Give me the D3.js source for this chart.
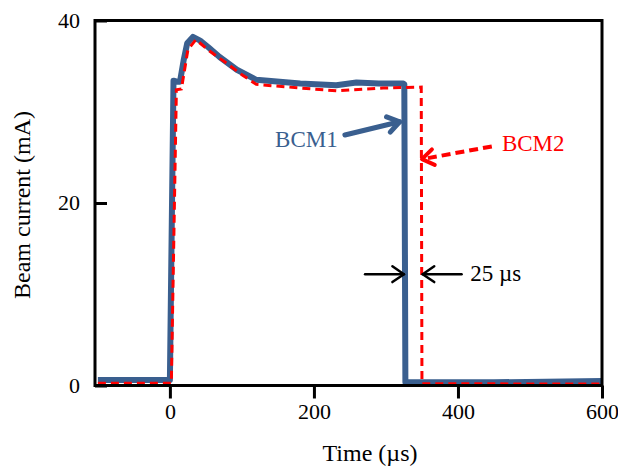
<!DOCTYPE html>
<html>
<head>
<meta charset="utf-8">
<script src="https://cdn.jsdelivr.net/npm/d3@7"></script>
<style>
  body { margin: 0; background: #fff; }
  text { font-family: "Liberation Serif", "Times New Roman", serif; }
</style>
</head>
<body>
<svg id="paper" width="618" height="468"></svg>
<script>
// BCM1 trace (time in us, current in mA)
var bcm1Time = [-100, 0, 5, 10, 14, 19, 24, 32, 42, 53, 69, 93, 120, 181, 231, 259, 290, 324, 325.5, 327, 450, 600];
var bcm1Curr = [0.6, 0.6, 33.4, 33.3, 33.3, 35.6, 37.5, 38.2, 37.8, 37.1, 36.0, 34.6, 33.5, 33.1, 32.9, 33.2, 33.1, 33.1, 33.0, 0.35, 0.35, 0.5];

// BCM2 trace
var bcm2Time = [-100, 2, 9, 16, 25, 36, 56, 79, 101, 120, 181, 231, 296, 349, 350, 600];
var bcm2Curr = [0.25, 0.25, 32.4, 32.5, 36.8, 37.9, 36.6, 35.3, 34.0, 33.0, 32.6, 32.3, 32.6, 32.7, 0.2, 0.15];

var xTicks = [0, 200, 400, 600];
var yTicks = [0, 20, 40];

// annotations in data units
var labels = [
    { text: "BCM1", t: 233, v: 26.1, anchor: "end", color: "#3a5f8f" },
    { text: "BCM2", t: 461, v: 25.7, anchor: "start", color: "#ff0000" },
    { text: "25 \u00b5s", t: 417, v: 11.45, anchor: "start", color: "#000" }
];
var arrows = [
    { t0: 243, v0: 27.45, t1: 319, v1: 28.9, color: "#3a5f8f", width: 5, dash: null },
    { t0: 447, v0: 26.2, t1: 350, v1: 24.8, color: "#ff0000", width: 4, dash: "9,5" },
    { t0: 271, v0: 12.2, t1: 325, v1: 12.2, color: "#000", width: 2.5, dash: null },
    { t0: 405, v0: 12.2, t1: 351, v1: 12.2, color: "#000", width: 2.5, dash: null }
];

var svg = d3.select("#paper");
var plotLeft = 95, plotRight = 602, plotTop = 20.5, plotBottom = 385.5;

var x = d3.scaleLinear().domain([-104, 600]).range([plotLeft, plotRight]);
var y = d3.scaleLinear().domain([0, 40]).range([plotBottom, plotTop]);

var line = d3.line()
    .x(function (d) { return x(d[0]); })
    .y(function (d) { return y(d[1]); });

var blue = d3.zip(bcm1Time, bcm1Curr);
var red = d3.zip(bcm2Time, bcm2Curr);

svg.append("path")
    .datum(blue)
    .attr("d", line)
    .attr("fill", "none")
    .attr("stroke", "#3a5f8f")
    .attr("stroke-width", 6)
    .attr("stroke-linejoin", "round");

svg.append("path")
    .datum(red)
    .attr("d", line)
    .attr("fill", "none")
    .attr("stroke", "#ff0000")
    .attr("stroke-width", 3)
    .attr("stroke-dasharray", "8,5");

// frame
svg.append("rect")
    .attr("x", plotLeft).attr("y", plotTop)
    .attr("width", plotRight - plotLeft).attr("height", plotBottom - plotTop)
    .attr("fill", "none")
    .attr("stroke", "#000")
    .attr("stroke-width", 3);

// x axis
var xAxis = svg.append("g")
    .attr("transform", "translate(0," + plotBottom + ")")
    .call(d3.axisBottom(x).tickValues(xTicks).tickSize(13).tickSizeOuter(0).tickPadding(5));
xAxis.select(".domain").remove();
xAxis.selectAll(".tick line").attr("stroke", "#000").attr("stroke-width", 3);
xAxis.selectAll(".tick text")
    .attr("font-family", "Liberation Serif")
    .attr("font-size", 22)
    .attr("fill", "#000");

// y axis, ticks pointing inward
var yAxis = svg.append("g")
    .attr("transform", "translate(" + plotLeft + ",0)")
    .call(d3.axisRight(y).tickValues(yTicks).tickSize(12).tickSizeOuter(0));
yAxis.select(".domain").remove();
yAxis.selectAll(".tick line").attr("stroke", "#000").attr("stroke-width", 3);
yAxis.selectAll(".tick text")
    .attr("x", -15)
    .attr("dy", "0.3em")
    .attr("text-anchor", "end")
    .attr("font-family", "Liberation Serif")
    .attr("font-size", 22)
    .attr("fill", "#000");

// axis titles
svg.append("text")
    .attr("x", 370).attr("y", 461)
    .attr("text-anchor", "middle")
    .attr("font-size", 24)
    .text("Time (\u00b5s)");

svg.append("text")
    .attr("transform", "translate(30,205) rotate(-90)")
    .attr("text-anchor", "middle")
    .attr("font-size", 24)
    .text("Beam current (mA)");

// annotations
labels.forEach(function (l) {
    svg.append("text")
        .attr("x", x(l.t)).attr("y", y(l.v))
        .attr("text-anchor", l.anchor)
        .attr("font-size", 23)
        .attr("fill", l.color)
        .text(l.text);
});

arrows.forEach(function (a) {
    var x0 = x(a.t0), y0 = y(a.v0), x1 = x(a.t1), y1 = y(a.v1);
    var ang = Math.atan2(y1 - y0, x1 - x0);
    var len = 14, spread = 0.6;
    var g = svg.append("g")
        .attr("stroke", a.color)
        .attr("stroke-width", a.width)
        .attr("stroke-linecap", "round")
        .attr("stroke-linejoin", "round")
        .attr("fill", "none");
    var shaft = g.append("line")
        .attr("x1", x0).attr("y1", y0)
        .attr("x2", x1).attr("y2", y1);
    if (a.dash) shaft.attr("stroke-dasharray", a.dash).attr("stroke-linecap", "butt");
    g.append("path")
        .attr("d", "M" + (x1 - len * Math.cos(ang - spread)) + "," + (y1 - len * Math.sin(ang - spread)) +
            "L" + x1 + "," + y1 +
            "L" + (x1 - len * Math.cos(ang + spread)) + "," + (y1 - len * Math.sin(ang + spread)));
});
</script>
</body>
</html>
